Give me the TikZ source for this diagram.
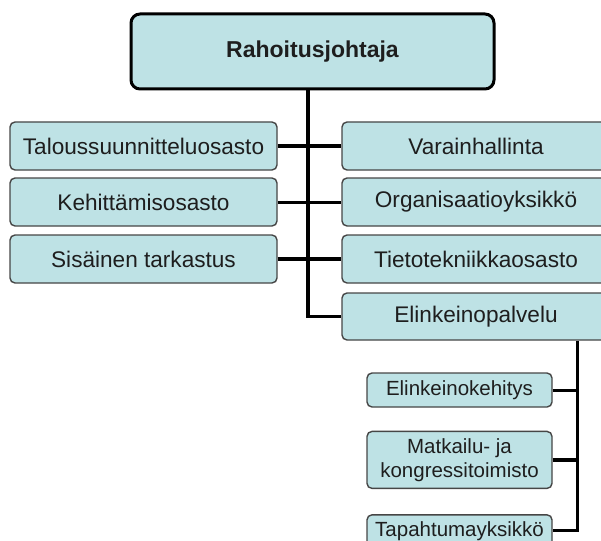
\documentclass[tikz,border=0pt]{standalone}
\usepackage{fontspec}
\setmainfont{Liberation Sans}
\usetikzlibrary{positioning}
\definecolor{boxfill}{RGB}{190,226,229}
\definecolor{boxline}{RGB}{70,70,70}
\definecolor{txt}{RGB}{30,30,30}

\begin{document}
\begin{tikzpicture}[x=1pt,y=-1pt,
    dept/.style={draw=boxline, line width=1.4pt, fill=boxfill, rounded corners=5pt,
        minimum width=267pt, minimum height=48pt, inner sep=0pt, text=txt,
        font=\fontsize{22.6}{26}\selectfont},
    unit/.style={dept, minimum width=185pt, align=center,
        font=\fontsize{20.5}{24}\selectfont},
    conn/.style={line width=3pt}]
\useasboundingbox (0,0) rectangle (601,540);

% Head of the organisation
\node[dept, draw=black, line width=3pt, rounded corners=9pt, minimum width=363pt,
    minimum height=75pt, font=\fontsize{23}{28}\selectfont\bfseries] (top) at (312.5,51.5) {Rahoitusjohtaja};

% Departments left and right of the trunk
\foreach \i/\y/\lname/\rname/\w in {
    1/146/Taloussuunnitteluosasto/Varainhallinta/3,
    2/202/Kehittämisosasto/Organisaatioyksikkö/3,
    3/259/Sisäinen tarkastus/Tietotekniikkaosasto/4.2
} {
    \node[dept] (l\i) at (143.5,\y) {\lname};
    \node[dept, minimum width=268pt] (r\i) at (476,\y) {\rname};
    \draw[conn, line width=\w pt] (l\i.east) -- (r\i.west);
}
\node[dept, minimum width=268pt, minimum height=47pt] (r4) at (476,316.5) {Elinkeinopalvelu};

% Units below Elinkeinopalvelu
\node[unit, minimum height=34pt] (elk) at (459.5,390) {Elinkeinokehitys};
\node[unit, minimum height=57pt, below=23pt of elk] (mat) {Matkailu- ja\\kongressitoimisto};
\node[unit, minimum height=32pt, below=25pt of mat] (tap) {Tapahtumayksikkö};

% Connectors
\coordinate (trunk) at (308,0);
\coordinate (sub) at (577,0);
\draw[conn, line width=3.8pt] (top.south -| trunk) |- (r4.west);
\draw[conn] (r4.south -| sub) |- (tap.east);
\draw[conn] (elk.east) -- (elk.east -| sub);
\draw[conn, line width=3.8pt] (mat.east) -- (mat.east -| sub);
\end{tikzpicture}
\end{document}
